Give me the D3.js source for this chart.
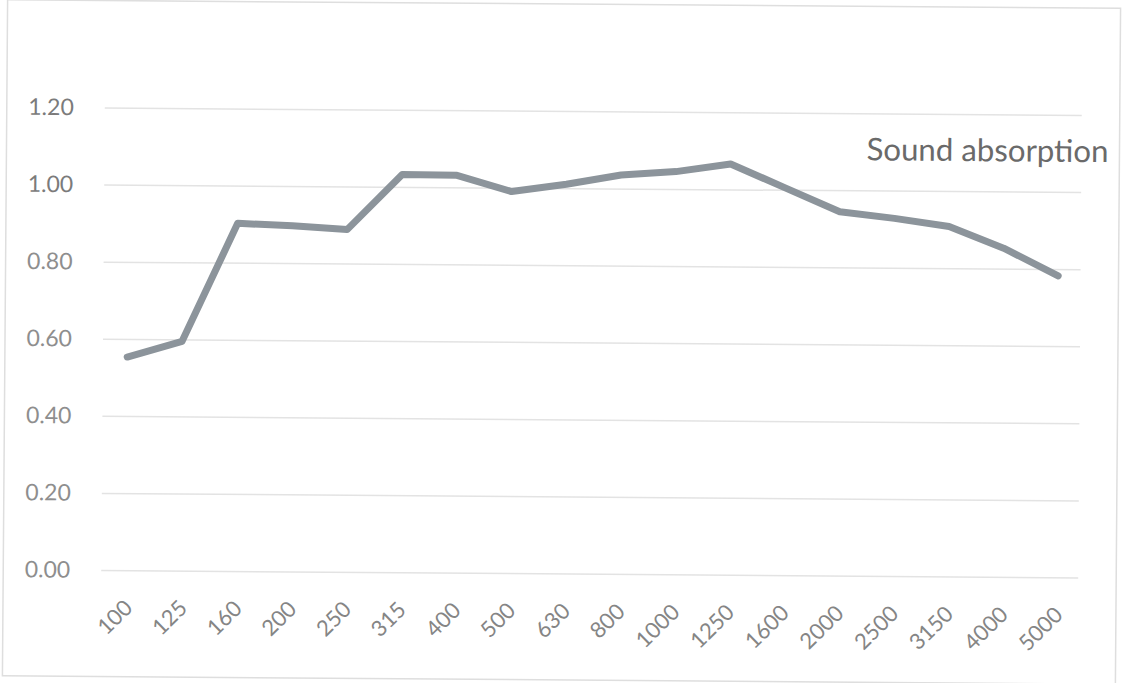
<!DOCTYPE html>
<html>
<head>
<meta charset="utf-8">
<script src="https://cdn.jsdelivr.net/npm/d3@7/dist/d3.min.js"></script>
<style>
  html, body { margin: 0; padding: 0; background: #ffffff; }
  svg { display: block; }
</style>
</head>
<body>
<script>
// ---- data ----
const frequencies = ["100","125","160","200","250","315","400","500","630","800","1000","1250","1600","2000","2500","3150","4000","5000"];
const absorption  = [0.553,0.595,0.902,0.897,0.888,1.032,1.031,0.990,1.010,1.035,1.045,1.066,1.005,0.944,0.928,0.908,0.853,0.782];
const yTicks = [0, 0.2, 0.4, 0.6, 0.8, 1.0, 1.2];
const seriesName = "Sound absorption";

// ---- layout ----
const W = 1122, H = 683;
const plot = { left: 100, right: 1085, top: 111, bottom: 573.5 };

const svg = d3.select("body").append("svg").attr("width", W).attr("height", H);
svg.append("rect").attr("width", W).attr("height", H).attr("fill", "#ffffff");

// the photographed chart is slightly tilted
const g = svg.append("g").attr("transform", `rotate(0.44, ${W/2}, ${H/2})`);

// frame
g.append("rect")
  .attr("x", 5).attr("y", 4).attr("width", 1113).attr("height", 676)
  .attr("fill", "none").attr("stroke", "#dedede").attr("stroke-width", 1.5);

const x = d3.scalePoint().domain(frequencies).range([plot.left, plot.right]).padding(0.5);
const y = d3.scaleLinear().domain([0, 1.2]).range([plot.bottom, plot.top]);

// gridlines
const yAxis = d3.axisLeft(y).tickValues(yTicks).tickFormat(d3.format(".2f"))
  .tickSize(-(1080 - 103)).tickPadding(31);
const yg = g.append("g").attr("transform", `translate(103,0)`).call(yAxis);
yg.select(".domain").remove();
yg.selectAll(".tick line").attr("stroke", "#e3e3e3").attr("stroke-width", 1.5);
yg.selectAll(".tick text")
  .attr("fill", (d) => d >= 1 ? "#7b7b7b" : "#8e8e8e")
  .style("font-family", "Lato, 'Open Sans', sans-serif")
  .style("font-size", "23px");

// x axis labels
const xAxis = d3.axisBottom(x).tickSize(0).tickPadding(0);
const xg = g.append("g").attr("transform", `translate(0,${plot.bottom})`).call(xAxis);
xg.select(".domain").remove();
xg.selectAll(".tick text")
  .attr("fill", "#858585")
  .style("font-family", "Lato, 'Open Sans', sans-serif")
  .style("font-size", "22px")
  .attr("text-anchor", "end")
  .attr("dy", null)
  .attr("transform", "translate(8,39) rotate(-45)");

// line
const line = d3.line()
  .x((d, i) => x(frequencies[i]))
  .y((d) => y(d))
  .curve(d3.curveLinear);
g.append("path")
  .datum(absorption)
  .attr("d", line)
  .attr("fill", "none")
  .attr("stroke", "#8c949b")
  .attr("stroke-width", 7)
  .attr("stroke-linejoin", "round")
  .attr("stroke-linecap", "round");

// series label
const lbl = g.append("text")
  .attr("x", 1107).attr("y", 158)
  .attr("text-anchor", "end")
  .attr("fill", "#6a6a6a")
  .style("font-family", "Lato, 'Open Sans', sans-serif")
  .style("font-size", "100px")
  .text(seriesName);
const w100 = lbl.node().getComputedTextLength();
lbl.style("font-size", (100 * 242 / w100).toFixed(2) + "px");
</script>
</body>
</html>
